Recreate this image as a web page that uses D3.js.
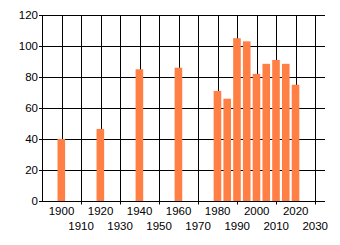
<!DOCTYPE html>
<html>
<head>
<meta charset="utf-8">
<script src="https://cdn.jsdelivr.net/npm/d3@7"></script>
<style>
body { margin: 0; background: #fff; }
text { font-family: "Liberation Sans", Arial, sans-serif; font-size: 11.5px; fill: #000; }
</style>
</head>
<body>
<script>
// data
var years = [1900, 1920, 1940, 1960, 1980, 1985, 1990, 1995, 2000, 2005, 2010, 2015, 2020];
var values = [40, 46.5, 85, 86, 71, 66, 105, 103, 82, 88.5, 91, 88.5, 75];
var yTicks = [0, 20, 40, 60, 80, 100, 120];
var xTicks = [1900, 1910, 1920, 1930, 1940, 1950, 1960, 1970, 1980, 1990, 2000, 2010, 2020, 2030];

var svg = d3.select('body').append('svg')
    .attr('width', 340)
    .attr('height', 245);

var x = d3.scaleLinear().domain([1890, 2035]).range([42, 325]);
var y = d3.scaleLinear().domain([0, 120]).range([201, 15]);

function px(v) { return Math.round(v) + 0.5; }

// horizontal grid
svg.selectAll('.hgrid')
    .data(yTicks)
    .enter().append('line')
    .attr('x1', 39)
    .attr('x2', x(2035))
    .attr('y1', function(d) { return px(y(d)); })
    .attr('y2', function(d) { return px(y(d)); })
    .attr('stroke', 'black');

// vertical grid, odd decades get a small tick under the axis
svg.selectAll('.vgrid')
    .data(xTicks)
    .enter().append('line')
    .attr('x1', function(d) { return px(x(d)); })
    .attr('x2', function(d) { return px(x(d)); })
    .attr('y1', px(y(120)))
    .attr('y2', function(d) { return d % 20 == 0 ? px(y(0)) : px(y(0)) + 3; })
    .attr('stroke', 'black');

// left axis line
svg.append('line')
    .attr('x1', px(x(1890)))
    .attr('x2', px(x(1890)))
    .attr('y1', px(y(120)))
    .attr('y2', px(y(0)))
    .attr('stroke', 'black');

// bars
svg.selectAll('.bar')
    .data(years)
    .enter().append('rect')
    .attr('x', function(d) { return x(d) - 4; })
    .attr('width', 7.6)
    .attr('y', function(d, i) { return y(values[i]); })
    .attr('height', function(d, i) { return y(0) - y(values[i]); })
    .attr('fill', '#ff7f45');

// y labels
svg.selectAll('.ylab')
    .data(yTicks)
    .enter().append('text')
    .attr('x', 38)
    .attr('y', function(d) { return y(d) + 4; })
    .attr('text-anchor', 'end')
    .text(function(d) { return d; });

// x labels, staggered on two rows
svg.selectAll('.xlab')
    .data(xTicks)
    .enter().append('text')
    .attr('x', function(d) { return x(d); })
    .attr('y', function(d) { return d % 20 == 0 ? 215 : 230; })
    .attr('text-anchor', 'middle')
    .text(function(d) { return d; });
</script>
</body>
</html>
